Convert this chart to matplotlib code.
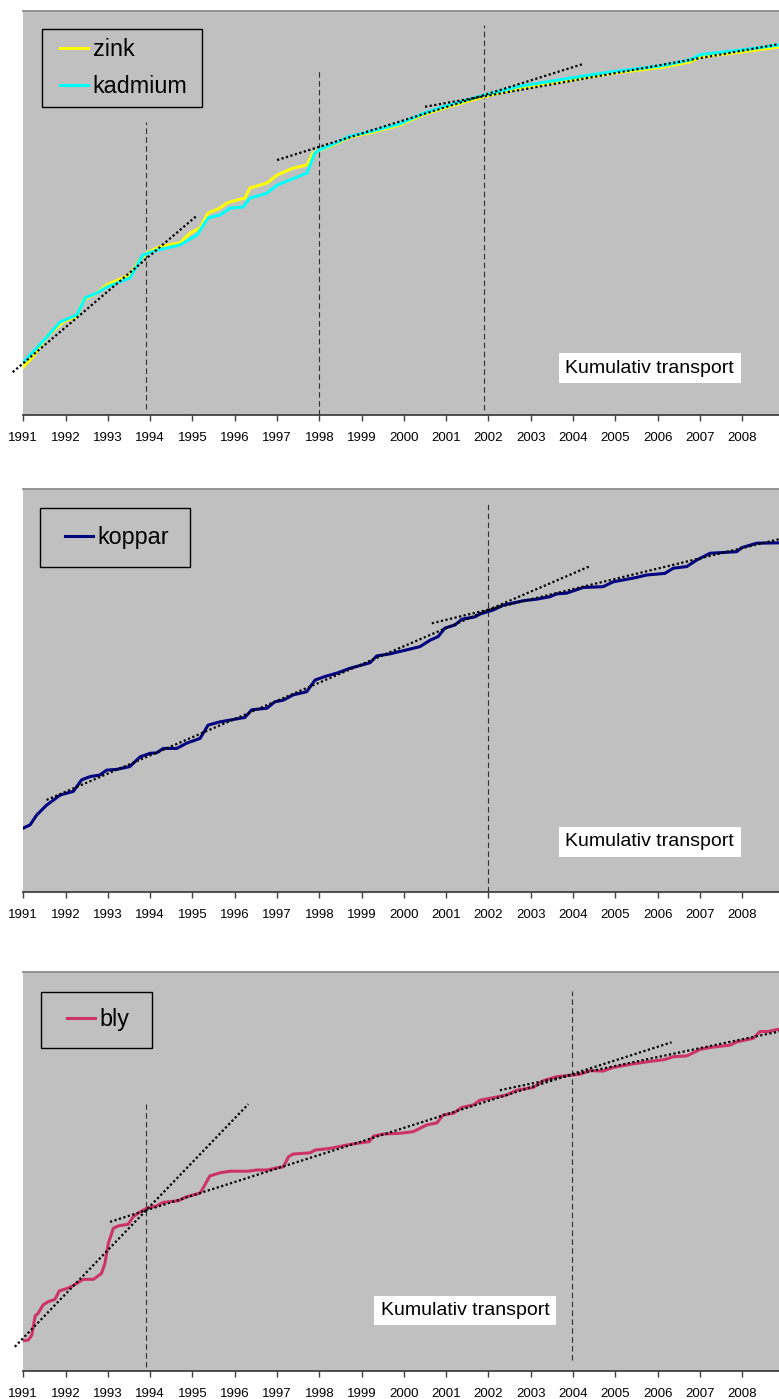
import matplotlib
matplotlib.use('Agg')
import matplotlib.pyplot as plt
from matplotlib.patches import Rectangle

plt.rcParams['font.family'] = ['Liberation Sans', 'DejaVu Sans']

# x axis years (tick labels)
years = list(range(1991, 2009))

# panel 1: zink / kadmium (values on a relative 0-100 scale)
zink_t = [1991.00, 1991.23, 1991.55, 1991.95, 1992.26, 1992.42, 1992.74, 1992.97, 1993.52, 1993.76,
          1993.92, 1994.23, 1994.71, 1994.94, 1995.18, 1995.37, 1995.65, 1995.82, 1996.05, 1996.24,
          1996.36, 1996.76, 1997.00, 1997.38, 1997.71, 1997.85, 1998.02, 1998.32, 1998.72, 1999.27,
          1999.91, 2000.45, 2001.02, 2001.87, 2002.75, 2004.24, 2004.95, 2006.13, 2006.77, 2007.01,
          2007.95, 2008.87]
zink_v = [11.9, 14.4, 19.4, 23.1, 24.3, 28.5, 30.2, 32.2, 34.7, 38.4,
          40.1, 41.7, 42.6, 45.0, 46.3, 50.0, 51.2, 52.5, 53.2, 53.7,
          56.2, 57.4, 59.4, 61.1, 61.9, 64.8, 65.6, 66.8, 68.8, 70.0,
          71.8, 74.3, 76.2, 78.7, 80.9, 83.4, 84.6, 86.1, 87.4, 88.6,
          89.8, 91.1]
kadmium_t = [1991.00, 1991.32, 1991.87, 1992.27, 1992.46, 1992.74, 1992.98, 1993.52, 1993.83, 1994.16,
             1994.71, 1995.11, 1995.37, 1995.65, 1995.89, 1996.20, 1996.36, 1996.76, 1997.00, 1997.71,
             1997.89, 1998.02, 1998.32, 1998.72, 1999.27, 1999.91, 2000.45, 2001.02, 2001.87, 2002.75,
             2004.24, 2004.95, 2006.13, 2006.77, 2007.01, 2007.95, 2008.87]
kadmium_v = [13.1, 16.6, 23.0, 24.8, 29.0, 30.2, 31.7, 33.9, 39.6, 40.8,
             42.1, 44.6, 48.8, 49.5, 51.2, 51.5, 53.7, 54.9, 56.9, 59.9,
             64.8, 65.7, 67.0, 69.0, 70.3, 72.1, 74.6, 76.6, 79.1, 81.4,
             83.9, 85.0, 86.5, 87.9, 89.2, 90.3, 91.6]

# panel 2: koppar
koppar_t = [1991.00, 1991.16, 1991.32, 1991.55, 1991.87, 1992.03, 1992.18, 1992.38, 1992.58, 1992.81,
            1992.97, 1993.21, 1993.52, 1993.76, 1994.00, 1994.15, 1994.31, 1994.63, 1994.86, 1995.18,
            1995.37, 1995.65, 1995.97, 1996.24, 1996.40, 1996.76, 1996.95, 1997.15, 1997.38, 1997.70,
            1997.90, 1998.17, 1998.41, 1998.72, 1999.20, 1999.36, 1999.67, 2000.38, 2000.62, 2000.81,
            2000.97, 2001.21, 2001.37, 2001.68, 2001.80, 2002.11, 2002.35, 2002.82, 2003.14, 2003.45,
            2003.61, 2003.85, 2004.24, 2004.71, 2004.95, 2005.50, 2005.74, 2006.17, 2006.37, 2006.69,
            2006.92, 2007.24, 2007.87, 2007.99, 2008.34, 2008.87]
koppar_v = [15.8, 16.6, 19.1, 21.5, 24.0, 24.5, 24.9, 27.8, 28.6, 29.0,
            30.2, 30.4, 31.1, 33.5, 34.4, 34.5, 35.6, 35.6, 36.9, 38.1,
            41.4, 42.2, 42.8, 43.3, 45.2, 45.6, 47.2, 47.6, 48.9, 49.7,
            52.6, 53.6, 54.3, 55.5, 56.9, 58.6, 59.1, 60.9, 62.5, 63.4,
            65.5, 66.3, 67.7, 68.3, 69.0, 70.0, 71.2, 72.3, 72.7, 73.3,
            74.0, 74.2, 75.6, 75.8, 77.0, 78.1, 78.7, 79.1, 80.4, 80.8,
            82.4, 84.1, 84.5, 85.5, 86.6, 86.7]

# panel 3: bly
bly_t = [1991.00, 1991.12, 1991.20, 1991.28, 1991.35, 1991.47, 1991.59, 1991.75, 1991.85, 1992.03,
         1992.14, 1992.42, 1992.66, 1992.85, 1992.93, 1993.01, 1993.13, 1993.25, 1993.48, 1993.60,
         1993.76, 1993.92, 1994.15, 1994.31, 1994.67, 1994.86, 1995.18, 1995.27, 1995.41, 1995.65,
         1995.89, 1996.32, 1996.52, 1996.76, 1997.07, 1997.15, 1997.27, 1997.38, 1997.78, 1997.90,
         1998.25, 1998.72, 1998.96, 1999.18, 1999.28, 1999.51, 1999.91, 2000.22, 2000.54, 2000.78,
         2000.93, 2001.17, 2001.37, 2001.64, 2001.80, 2002.15, 2002.43, 2002.67, 2003.06, 2003.30,
         2003.61, 2004.16, 2004.40, 2004.71, 2004.95, 2005.42, 2005.74, 2006.17, 2006.37, 2006.69,
         2007.00, 2007.24, 2007.71, 2007.87, 2008.26, 2008.42, 2008.61, 2008.87]
bly_v = [7.5, 7.7, 8.9, 13.7, 14.4, 16.5, 17.3, 17.9, 20.0, 20.6,
         21.1, 22.9, 22.9, 24.4, 26.9, 31.9, 35.7, 36.3, 36.7, 38.6,
         39.8, 40.7, 41.3, 42.2, 42.6, 43.6, 44.5, 46.1, 48.8, 49.6,
         50.0, 50.0, 50.3, 50.3, 51.0, 51.1, 53.6, 54.3, 54.6, 55.3,
         55.7, 56.7, 57.1, 57.4, 58.8, 59.3, 59.5, 59.9, 61.6, 62.1,
         64.1, 64.5, 66.0, 66.6, 67.8, 68.5, 69.1, 70.3, 71.0, 72.7,
         73.7, 74.3, 75.2, 75.1, 76.0, 76.9, 77.4, 78.0, 78.7, 78.9,
         80.5, 81.0, 81.6, 82.4, 83.3, 85.0, 85.0, 85.6]

# trend lines (x0, y0, x1, y1) and breakpoints (x, ymin, ymax)
trends_1 = [(1990.75, 10.6, 1995.10, 49.3), (1997.00, 63.1, 2004.21, 86.8), (2000.50, 76.3, 2008.87, 91.8)]
trends_2 = [(1991.55, 22.8, 2004.40, 80.9), (2000.66, 66.7, 2008.87, 87.6)]
trends_3 = [(1990.80, 6.0, 1996.32, 66.8), (1993.05, 37.3, 2006.33, 82.3), (2002.27, 70.3, 2008.87, 85.0)]
breaks_1 = [(1993.90, 1.5, 72.5), (1998.00, 0.0, 85.4), (2001.89, 1.2, 96.5)]
breaks_2 = [(2002.00, 0.0, 96.9)]
breaks_3 = [(1993.89, 0.9, 66.8), (2003.97, 2.7, 95.2)]

fig = plt.figure(figsize=(7.79, 13.99), dpi=100)
left = 23.3 / 779
width = 1 - left
boxes = [(0.70336, 0.28878), (0.36262, 0.28763), (0.02023, 0.28520)]


def setup(ax):
    ax.set_facecolor('#c0c0c0')
    ax.set_xlim(1991, 2008.87)
    ax.set_ylim(0, 100)
    ax.set_yticks([])
    ax.set_xticks(years)
    ax.set_xticklabels([str(y) for y in years], fontsize=9.5)
    ax.tick_params(axis='x', direction='out', length=4, width=1, color='#404040', pad=8.5)
    for s in ['left', 'right']:
        ax.spines[s].set_visible(False)
    ax.spines['top'].set_color('#8c8c8c')
    ax.spines['top'].set_linewidth(1.3)
    ax.spines['bottom'].set_color('#404040')
    ax.spines['bottom'].set_linewidth(1.3)


def decorate(ax, trends, breaks, lab_x, lab_y):
    for x0, y0, x1, y1 in trends:
        ax.plot([x0, x1], [y0, y1], color='black', lw=1.6, linestyle=(0, (1, 1.1)),
                clip_on=False, zorder=4)
    for x, y0, y1 in breaks:
        ax.plot([x, x], [y0, y1], color='#303030', lw=0.8, linestyle=(0, (5, 3)), zorder=2)
    ax.text(lab_x, lab_y, 'Kumulativ transport', transform=ax.transAxes, fontsize=14,
            ha='center', va='center',
            bbox=dict(facecolor='white', edgecolor='none', boxstyle='square,pad=0.33'))


def legend(ax, hx, cy, frame, spacing=0.5):
    # legend entries without frame, box drawn separately (Excel style padding)
    ax.legend(loc='center left', bbox_to_anchor=(hx, cy), borderaxespad=0, borderpad=0,
              frameon=False, prop={'size': 16.8}, handlelength=1.18, handletextpad=0.22,
              labelspacing=spacing)
    x, y, w, h = frame
    ax.add_patch(Rectangle((x, y), w, h, transform=ax.transAxes, facecolor='none',
                           edgecolor='black', lw=1.0, zorder=5))


ax1 = fig.add_axes([left, boxes[0][0], width, boxes[0][1]])
setup(ax1)
ax1.plot(zink_t, zink_v, color='#ffff00', lw=2.2, label='zink', zorder=3)
ax1.plot(kadmium_t, kadmium_v, color='#00ffff', lw=2.2, label='kadmium', zorder=3)
decorate(ax1, trends_1, breaks_1, 0.829, 0.116)
legend(ax1, 0.0486, 0.859, (0.0247, 0.7624, 0.2117, 0.1931), spacing=0.58)

ax2 = fig.add_axes([left, boxes[1][0], width, boxes[1][1]])
setup(ax2)
ax2.plot(koppar_t, koppar_v, color='#000080', lw=2.2, label='koppar', zorder=3)
decorate(ax2, trends_2, breaks_2, 0.829, 0.124)
legend(ax2, 0.0552, 0.879, (0.0221, 0.806, 0.1989, 0.1481))

ax3 = fig.add_axes([left, boxes[2][0], width, boxes[2][1]])
setup(ax3)
ax3.plot(bly_t, bly_v, color='#cc3366', lw=2.2, label='bly', zorder=3)
decorate(ax3, trends_3, breaks_3, 0.5845, 0.151)
legend(ax3, 0.0578, 0.879, (0.0234, 0.808, 0.1465, 0.1419))

fig.savefig('out.png', dpi=100, facecolor='white')
